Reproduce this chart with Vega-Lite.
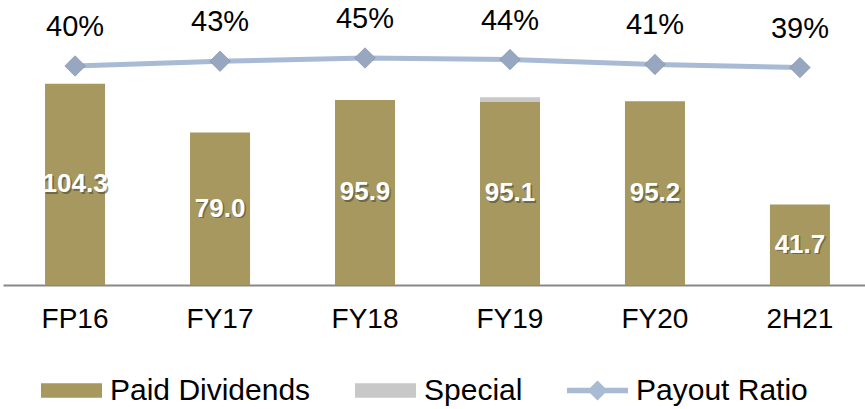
{
  "$schema": "https://vega.github.io/schema/vega-lite/v6.json",
  "width": 862,
  "height": 285,
  "autosize": {"type": "none"},
  "padding": {"left": 3, "top": 0, "right": 0, "bottom": 124},
  "background": "white",
  "config": {"view": {"stroke": null}, "font": "Liberation Sans"},
  "datasets": {
    "bars": [
      {"period": "FP16", "series": "Paid Dividends", "value": 104.3},
      {"period": "FY17", "series": "Paid Dividends", "value": 79.0},
      {"period": "FY18", "series": "Paid Dividends", "value": 95.9},
      {"period": "FY19", "series": "Paid Dividends", "value": 95.1},
      {"period": "FY19", "series": "Special", "value": 2.2},
      {"period": "FY20", "series": "Paid Dividends", "value": 95.2},
      {"period": "2H21", "series": "Paid Dividends", "value": 41.7}
    ],
    "ratio": [
      {"period": "FP16", "ratio": 0.40},
      {"period": "FY17", "ratio": 0.43},
      {"period": "FY18", "ratio": 0.45},
      {"period": "FY19", "ratio": 0.44},
      {"period": "FY20", "ratio": 0.41},
      {"period": "2H21", "ratio": 0.39}
    ]
  },
  "layer": [
    {
      "data": {"name": "bars"},
      "mark": {"type": "bar"},
      "encoding": {
        "x": {
          "field": "period", "type": "nominal",
          "sort": ["FP16", "FY17", "FY18", "FY19", "FY20", "2H21"],
          "scale": {"paddingInner": 0.586, "paddingOuter": 0.29, "range": [0, 869]},
          "axis": {
            "title": null, "ticks": false, "domainColor": "#888888", "domainWidth": 2,
            "labelFontSize": 28, "labelColor": "#000000", "labelPadding": 20, "labelFont": "Liberation Sans", "labelAngle": 0
          }
        },
        "y": {"field": "value", "type": "quantitative", "stack": "zero", "scale": {"domain": [0, 147.7]}, "axis": null},
        "color": {
          "field": "series", "type": "nominal",
          "scale": {"domain": ["Paid Dividends", "Special", "Payout Ratio"], "range": ["#A6985E", "#C8C8C8", "#A9BAD5"]},
          "legend": {
            "title": null, "orient": "none", "legendX": 38, "legendY": 360, "direction": "horizontal",
            "labelFontSize": 30, "labelColor": "#000000", "labelFont": "Liberation Sans", "labelLimit": 400,
            "symbolSize": 3721, "labelOffset": 8, "columnPadding": 44, "gridAlign": "none",
            "encode": {
              "symbols": {
                "update": {
                  "shape": {"signal": "datum.value === 'Payout Ratio' ? 'M-1,-0.09H1V0.09H-1Z M0,-0.33L0.33,0L0,0.33L-0.33,0Z' : 'M-1,-0.24H1V0.24H-1Z'"},
                  "fill": {"scale": "color", "field": "value"},
                  "strokeWidth": {"value": 0},
                  "opacity": {"value": 1}
                }
              }
            }
          }
        },
        "order": {"field": "series", "type": "nominal", "sort": "ascending"}
      }
    },
    {
      "data": {"name": "ratio"},
      "mark": {"type": "line", "strokeWidth": 5},
      "encoding": {
        "x": {"field": "period", "type": "nominal", "sort": ["FP16", "FY17", "FY18", "FY19", "FY20", "2H21"]},
        "y": {"field": "ratio", "type": "quantitative", "scale": {"domain": [-0.969, 0.8125]}, "axis": null},
        "color": {"datum": "Payout Ratio", "type": "nominal"}
      }
    },
    {
      "data": {"name": "ratio"},
      "mark": {"type": "point", "shape": "diamond", "filled": true, "size": 420, "color": "#98A7C0", "stroke": "#7A8AA4", "strokeWidth": 0.6, "opacity": 1},
      "encoding": {
        "x": {"field": "period", "type": "nominal", "sort": ["FP16", "FY17", "FY18", "FY19", "FY20", "2H21"]},
        "y": {"field": "ratio", "type": "quantitative", "scale": {"domain": [-0.969, 0.8125]}, "axis": null}
      }
    },
    {
      "data": {"name": "ratio"},
      "mark": {"type": "text", "dy": -39, "fontSize": 29, "color": "#000000", "baseline": "middle", "font": "Liberation Sans"},
      "encoding": {
        "x": {"field": "period", "type": "nominal", "sort": ["FP16", "FY17", "FY18", "FY19", "FY20", "2H21"]},
        "y": {"field": "ratio", "type": "quantitative", "scale": {"domain": [-0.969, 0.8125]}, "axis": null},
        "text": {"field": "ratio", "type": "quantitative", "format": ".0%"}
      }
    },
    {
      "data": {"name": "bars"},
      "transform": [{"filter": "datum.series === 'Paid Dividends'"}],
      "mark": {"type": "text", "dx": 1.5, "dy": 1.5, "fontSize": 26, "fontWeight": "bold", "color": "#4a4a3a", "opacity": 0.6, "baseline": "middle", "font": "Liberation Sans"},
      "encoding": {
        "x": {"field": "period", "type": "nominal", "sort": ["FP16", "FY17", "FY18", "FY19", "FY20", "2H21"]},
        "y": {"field": "value", "type": "quantitative", "scale": {"domain": [0, 295.4]}, "axis": null},
        "text": {"field": "value", "type": "quantitative", "format": ".1f"}
      }
    },
    {
      "data": {"name": "bars"},
      "transform": [{"filter": "datum.series === 'Paid Dividends'"}],
      "mark": {"type": "text", "fontSize": 26, "fontWeight": "bold", "color": "#FFFFFF", "baseline": "middle", "font": "Liberation Sans"},
      "encoding": {
        "x": {"field": "period", "type": "nominal", "sort": ["FP16", "FY17", "FY18", "FY19", "FY20", "2H21"]},
        "y": {"field": "value", "type": "quantitative", "scale": {"domain": [0, 295.4]}, "axis": null},
        "text": {"field": "value", "type": "quantitative", "format": ".1f"}
      }
    }
  ],
  "resolve": {"scale": {"y": "independent"}}
}
